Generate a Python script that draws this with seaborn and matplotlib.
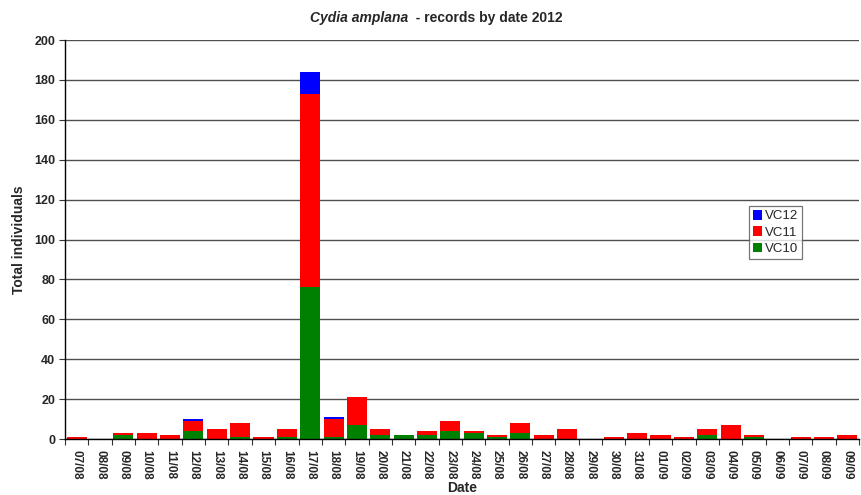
import matplotlib
matplotlib.use("Agg")
import matplotlib.pyplot as plt
from matplotlib.patches import Patch
from matplotlib.ticker import FixedLocator
import numpy as np
import pandas as pd
import seaborn as sns

dates = ["07/08", "08/08", "09/08", "10/08", "11/08", "12/08", "13/08", "14/08",
         "15/08", "16/08", "17/08", "18/08", "19/08", "20/08", "21/08", "22/08",
         "23/08", "24/08", "25/08", "26/08", "27/08", "28/08", "29/08", "30/08",
         "31/08", "01/09", "02/09", "03/09", "04/09", "05/09", "06/09", "07/09",
         "08/09", "09/09"]
vc10 = [0, 0, 2, 0, 0, 4, 0, 1, 0, 1, 76, 1, 7, 2, 2, 2, 4, 3, 1, 3, 0, 0, 0, 0,
        0, 0, 0, 2, 0, 1, 0, 0, 0, 0]
vc11 = [1, 0, 1, 3, 2, 5, 5, 7, 1, 4, 97, 9, 14, 3, 0, 2, 5, 1, 1, 5, 2, 5, 0, 1,
        3, 2, 1, 3, 7, 1, 0, 1, 1, 2]
vc12 = [0, 0, 0, 0, 0, 1, 0, 0, 0, 0, 11, 1, 0, 0, 0, 0, 0, 0, 0, 0, 0, 0, 0, 0,
        0, 0, 0, 0, 0, 0, 0, 0, 0, 0]

df = pd.DataFrame({"Date": dates, "VC10": vc10, "VC11": vc11, "VC12": vc12})
df["to11"] = df["VC10"] + df["VC11"]
df["to12"] = df["to11"] + df["VC12"]

sns.set_style("white")
plt.rcParams["font.family"] = ["Liberation Sans", "DejaVu Sans"]

W, H = 861, 495
fig = plt.figure(figsize=(W / 100, H / 100), dpi=100)
ax = fig.add_axes([65 / W, (H - 439) / H, (859 - 65) / W, (439 - 40) / H])

colors = {"VC12": "#0000FF", "VC11": "#FF0000", "VC10": "#008000"}
bw = 0.86
# stacked bars: draw cumulative heights from the top series down
sns.barplot(data=df, x="Date", y="to12", color=colors["VC12"], width=bw,
            saturation=1, ax=ax, zorder=3)
sns.barplot(data=df, x="Date", y="to11", color=colors["VC11"], width=bw,
            saturation=1, ax=ax, zorder=3)
sns.barplot(data=df, x="Date", y="VC10", color=colors["VC10"], width=bw,
            saturation=1, ax=ax, zorder=3)
for p in ax.patches:
    p.set_edgecolor("none")

ax.set_xlim(-0.5, len(dates) - 0.5)
ax.set_ylim(0, 200)
ax.set_yticks(np.arange(0, 201, 20))
ax.yaxis.grid(True, color="#505050", linewidth=1.0, zorder=0)
ax.set_axisbelow(True)

for s in ["top", "right"]:
    ax.spines[s].set_visible(False)
for s in ["left", "bottom"]:
    ax.spines[s].set_color("black")
    ax.spines[s].set_linewidth(1.0)
    ax.spines[s].set_zorder(4)

# tick marks sit between the categories
ax.tick_params(axis="x", which="major", length=0, pad=8)
ax.xaxis.set_minor_locator(FixedLocator(np.arange(-0.5, len(dates), 1.0)))
ax.tick_params(axis="x", which="minor", length=4, width=0.8, color="#333333",
               direction="out", bottom=True)
ax.tick_params(axis="y", length=4, width=0.8, color="#333333", direction="out",
               left=True, pad=3)

ax.set_xticks(range(len(dates)))
ax.set_xticklabels(dates, rotation=270, fontsize=8.5, fontweight="bold")
for t in ax.get_yticklabels():
    t.set_fontsize(9)
    t.set_fontweight("bold")

ax.set_xlabel("Date", fontsize=10, fontweight="bold", va="center")
ax.xaxis.set_label_coords(0.5, -(488 - 439) / (439 - 40))
ax.set_ylabel("Total individuals", fontsize=10, fontweight="bold", labelpad=6)

handles = [Patch(facecolor=colors[k], edgecolor="none", label=k)
           for k in ["VC12", "VC11", "VC10"]]
leg = ax.legend(handles=handles, loc="upper left", bbox_to_anchor=(0.861, 0.584),
                fontsize=9.5, frameon=True, fancybox=False, handlelength=0.75,
                handleheight=0.75, handletextpad=0.2, borderpad=0.3,
                labelspacing=0.3, borderaxespad=0)
leg.get_frame().set_edgecolor("#555555")
leg.get_frame().set_linewidth(0.9)

# title: italic species name followed by plain bold text
t1 = fig.text(310 / W, 1 - 18 / H, "Cydia amplana", fontsize=10,
              fontweight="bold", style="italic", va="center", ha="left")
ax.annotate("  - records by date 2012", xy=(1, 0.5), xycoords=t1,
            fontsize=10, fontweight="bold", va="center", ha="left")

fig.savefig("out.png", dpi=100)
